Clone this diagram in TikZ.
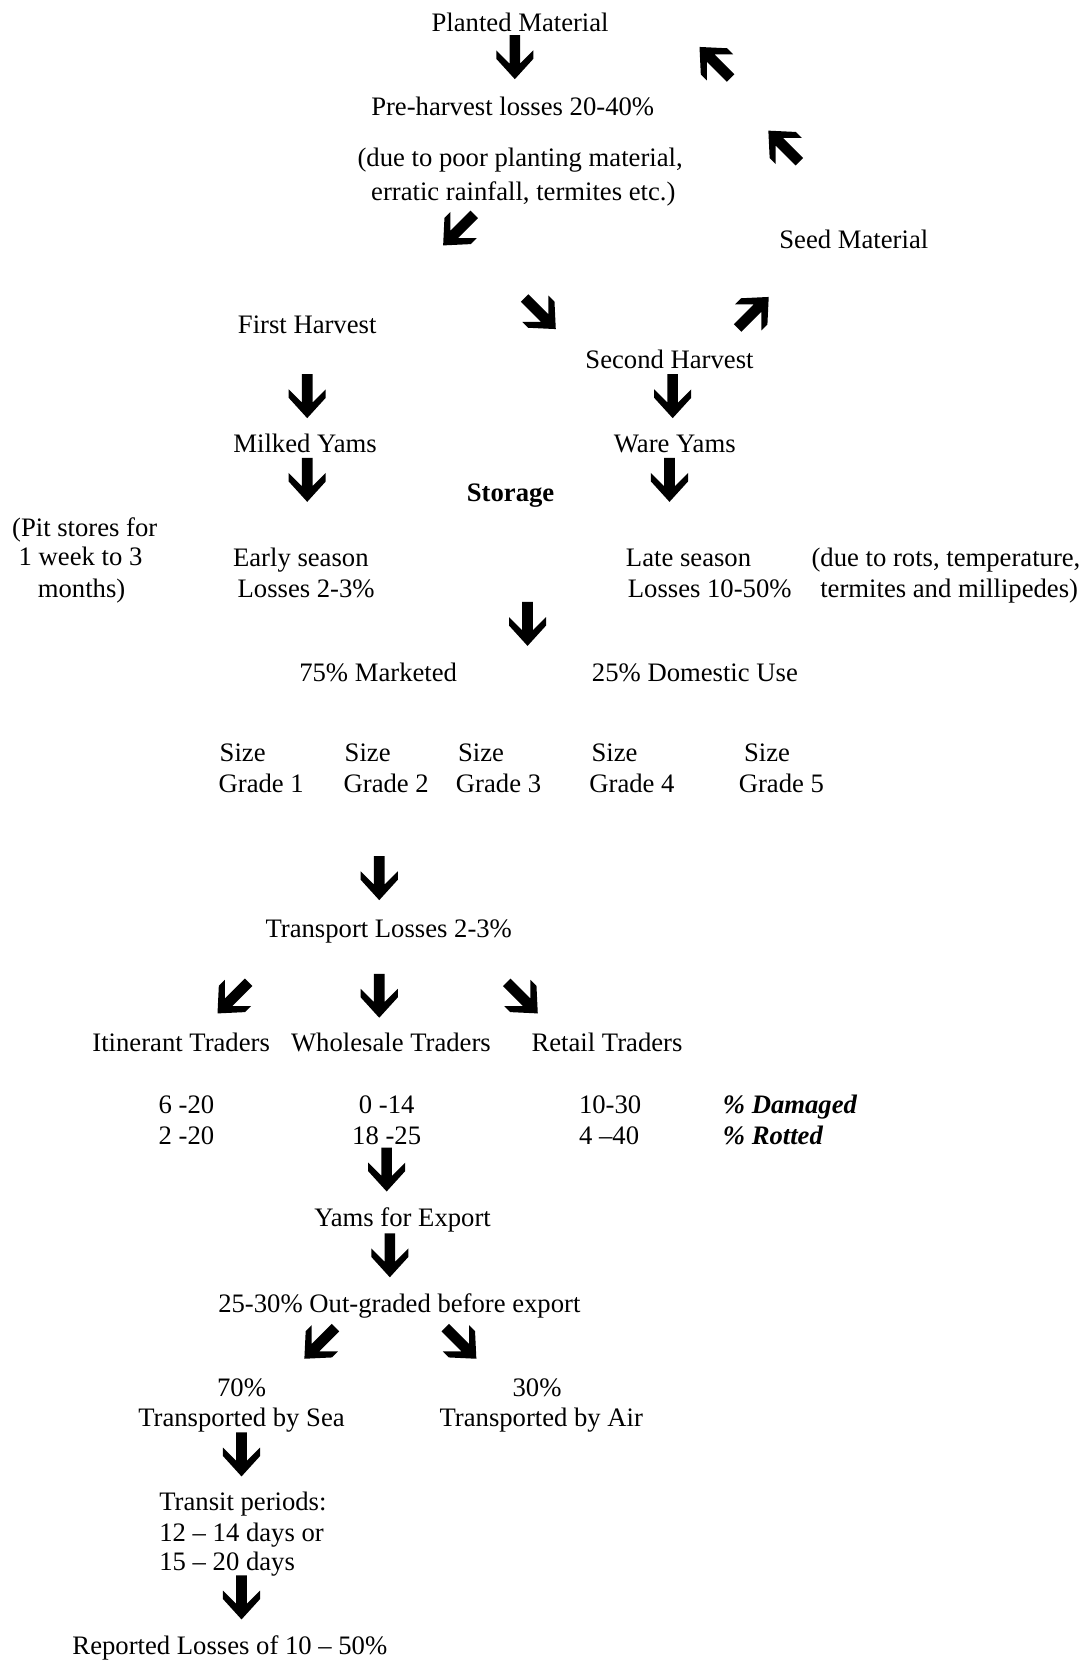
\documentclass[tikz,border=0pt]{standalone}
\usepackage{fontspec}
\setmainfont{Liberation Serif}
\begin{document}
\begin{tikzpicture}[x=0.4767pt,y=-0.4767pt,
  txt/.style={font=\fontsize{12pt}{13.8pt}\selectfont, inner sep=0pt, anchor=base, yshift=-0.95pt},
  ltxt/.style={txt, anchor=base west},
  bigarrow/.pic={\fill[black] (0,20.75) -- (17.5,1.5) -- (17.5,-6.5) -- (5,6) -- (5,-20.75) -- (-5,-20.75) -- (-5,6) -- (-17.5,-6.5) -- (-17.5,1.5) -- cycle;}
]
\useasboundingbox (0,0) rectangle (1027,1568);
% texts
\node[txt] (planted) at (491,28) {Planted Material};
\node[txt] (pre) at (484,107) {Pre-harvest losses 20-40\%};
\node[txt] (due1) at (491,155) {(due to poor planting material,};
\node[txt] (due2) at (494,187) {erratic rainfall, termites etc.)};
\node[txt] (seed) at (806,233) {Seed Material};
\node[txt] (first) at (290,313) {First Harvest};
\node[txt] (second) at (632,346) {Second Harvest};
\node[txt] (milked) at (288,425) {Milked Yams};
\node[txt] (ware) at (637,425) {Ware Yams};
\node[txt, font=\fontsize{12pt}{13.8pt}\selectfont\bfseries] (storage) at (482,471) {Storage};
\node[txt] (pit1) at (80,504) {(Pit stores for};
\node[txt] (pit2) at (76,532) {1 week to 3};
\node[txt] (pit3) at (77,562) {months)};
\node[txt] (early1) at (284,533) {Early season};
\node[txt] (early2) at (289,562) {Losses 2-3\%};
\node[txt] (late1) at (650,533) {Late season};
\node[txt] (late2) at (670,562) {Losses 10-50\%};
\node[txt] (rots1) at (893,533) {(due to rots, temperature,};
\node[txt] (rots2) at (896,562) {termites and millipedes)};
\node[txt] (mkt) at (357,641) {75\% Marketed};
\node[txt] (dom) at (656,641) {25\% Domestic Use};
\node[ltxt] (s1) at (207,717) {Size};
\node[ltxt] (g1) at (206,746) {Grade 1};
\node[ltxt] (s2) at (325,717) {Size};
\node[ltxt] (g2) at (324,746) {Grade 2};
\node[ltxt] (s3) at (432,717) {Size};
\node[ltxt] (g3) at (430,746) {Grade 3};
\node[ltxt] (s4) at (558,717) {Size};
\node[ltxt] (g4) at (556,746) {Grade 4};
\node[ltxt] (s5) at (702,717) {Size};
\node[ltxt] (g5) at (697,746) {Grade 5};
\node[txt] (trans) at (367,883) {Transport Losses 2-3\%};
\node[txt] (itin) at (171,991) {Itinerant Traders};
\node[txt] (whole) at (369,991) {Wholesale Traders};
\node[txt] (retail) at (573,991) {Retail Traders};
\node[txt] (n1a) at (176,1049) {6 -20};
\node[txt] (n1b) at (176,1078) {2 -20};
\node[txt] (n2a) at (365,1049) {0 -14};
\node[txt] (n2b) at (365,1078) {18 -25};
\node[txt] (n3a) at (576,1049) {10-30};
\node[txt] (n3b) at (575,1078) {4 –40};
\node[ltxt, font=\fontsize{12pt}{13.8pt}\selectfont\bfseries\itshape] (dmg) at (682,1049) {\% Damaged};
\node[ltxt, font=\fontsize{12pt}{13.8pt}\selectfont\bfseries\itshape] (rot) at (682,1078) {\% Rotted};
\node[txt] (export) at (380,1156) {Yams for Export};
\node[txt] (outg) at (377,1237) {25-30\% Out-graded before export};
\node[txt] (p70) at (228,1316) {70\%};
\node[txt] (sea) at (228,1345) {Transported by Sea};
\node[txt] (p30) at (507,1316) {30\%};
\node[txt] (air) at (511,1345) {Transported by Air};
\node[ltxt] (tr1) at (150,1424) {Transit periods:};
\node[ltxt] (tr2) at (150,1453) {12 – 14 days or};
\node[ltxt] (tr3) at (150,1481) {15 – 20 days};
\node[txt] (rep) at (217,1560) {Reported Losses of 10 – 50\%};
% block arrows
\pic at (486,54) {bigarrow};
\pic[rotate=225] at (675,59) {bigarrow};
\pic[rotate=225] at (740,138) {bigarrow};
\pic[rotate=-45] at (433,217) {bigarrow};
\pic[rotate=45] at (510,296) {bigarrow};
\pic[rotate=135] at (711,295) {bigarrow};
\pic at (290,374) {bigarrow};
\pic at (635,374) {bigarrow};
\pic at (290,453) {bigarrow};
\pic at (632,453) {bigarrow};
\pic at (498,589) {bigarrow};
\pic at (358,829) {bigarrow};
\pic[rotate=-45] at (220,942) {bigarrow};
\pic at (358,940) {bigarrow};
\pic[rotate=45] at (493,942) {bigarrow};
\pic at (365,1104) {bigarrow};
\pic at (368,1185) {bigarrow};
\pic[rotate=-45] at (302,1268) {bigarrow};
\pic[rotate=45] at (435,1268) {bigarrow};
\pic at (228,1373) {bigarrow};
\pic at (228,1508) {bigarrow};
\end{tikzpicture}
\end{document}
